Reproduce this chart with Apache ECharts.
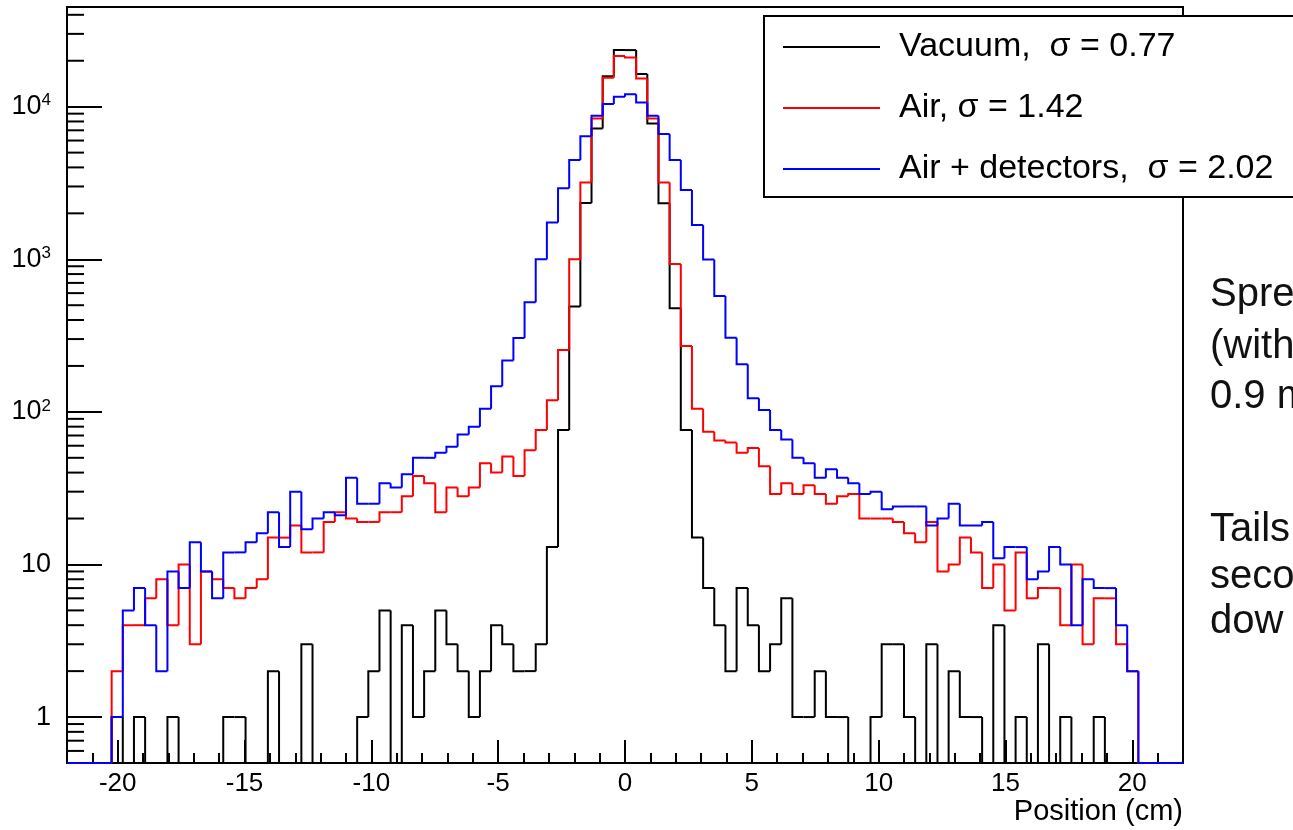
<!DOCTYPE html>
<html>
<head>
<meta charset="utf-8">
<script src="https://cdn.jsdelivr.net/npm/echarts@6/dist/echarts.min.js"></script>
<style>
html, body { margin: 0; padding: 0; background: #fff; }
#main { width: 1293px; height: 830px; }
</style>
</head>
<body>
<div id="main"></div>
<script>
var myChart = echarts.init(document.getElementById('main'));

// 100 bins between -22 and 22 cm
var binLow = -22, binHigh = 22, nBins = 100;
var binWidth = (binHigh - binLow) / nBins;

// counts per bin
var vacuum = [
    0, 0, 0, 0, 1, 0, 1, 0, 0, 1,
    0, 0, 0, 0, 1, 1, 0, 0, 2, 0,
    0, 3, 0, 0, 0, 0, 1, 2, 5, 0,
    4, 1, 2, 5, 3, 2, 1, 2, 4, 3,
    2, 2, 3, 13, 76, 490, 2340, 7200, 15850, 23480,
    23480, 16360, 7770, 2330, 477, 76, 15, 7, 4, 2,
    7, 4, 2, 3, 6, 1, 1, 2, 1, 1,
    0, 0, 1, 3, 3, 1, 0, 3, 0, 2,
    1, 1, 0, 4, 0, 1, 0, 3, 0, 1,
    0, 0, 1, 0, 0, 0, 0, 0, 0, 0
];
var air = [
    0, 0, 0, 0, 2, 4, 4, 6, 8, 4,
    10, 3, 9, 8, 7, 6, 7, 8, 15, 15,
    18, 12, 12, 19, 22, 20, 19, 19, 22, 22,
    28, 38, 34, 22, 32, 28, 32, 46, 40, 51,
    38, 56, 76, 119, 254, 1000, 3190, 8370, 15500, 21480,
    21040, 15300, 8370, 3190, 930, 270, 105, 74, 65, 63,
    54, 58, 44, 29, 34, 29, 33, 29, 25, 28,
    29, 20, 20, 20, 19, 16, 14, 19, 9, 10,
    15, 12, 7, 10, 5, 12, 6, 7, 7, 4,
    10, 3, 6, 6, 3, 2, 0, 0, 0, 0
];
var airDetectors = [
    0, 0, 0, 0, 1, 5, 7, 4, 2, 9,
    7, 14, 9, 6, 12, 12, 14, 16, 22, 13,
    30, 17, 20, 22, 21, 37, 25, 25, 34, 32,
    39, 50, 50, 54, 59, 71, 80, 105, 147, 217,
    305, 523, 1000, 1740, 2915, 4470, 6410, 8720, 10400, 11620,
    12040, 10660, 8720, 6610, 4470, 2840, 1680, 995, 574, 306,
    205, 123, 103, 76, 66, 50, 46, 37, 42, 37,
    34, 29, 30, 23, 24, 24, 24, 18, 20, 25,
    18, 18, 19, 11, 13, 13, 8, 9, 13, 10,
    4, 8, 7, 7, 4, 2, 0, 0, 0, 0
];

var names = ['Vacuum,  σ = 0.77', 'Air, σ = 1.42', 'Air + detectors,  σ = 2.02'];
var colors = ['#000000', '#ff0000', '#0000ff'];

var xLabelTicks = [-20, -15, -10, -5, 0, 5, 10, 15, 20];
var xMinorTicks = [-21, -20, -19, -18, -17, -16, -15, -14, -13, -12, -11, -10, -9, -8, -7, -6, -5, -4, -3, -2, -1,
    0, 1, 2, 3, 4, 5, 6, 7, 8, 9, 10, 11, 12, 13, 14, 15, 16, 17, 18, 19, 20, 21];
var yMinorTicks = [0.6, 0.7, 0.8, 0.9, 2, 3, 4, 5, 6, 7, 8, 9, 20, 30, 40, 50, 60, 70, 80, 90,
    200, 300, 400, 500, 600, 700, 800, 900, 2000, 3000, 4000, 5000, 6000, 7000, 8000, 9000,
    20000, 30000, 40000];
var yMin = 0.5, yMax = 45000;

var sideText = ['Spre', '(with', '0.9 m', 'Tails', 'seco', 'dow'];
var sideTextY = [295, 347, 397, 530, 577, 622];

var font = 'Liberation Sans, Arial, Helvetica, sans-serif';

function toBins(values) {
    return values.map(function (v, i) {
        return [binLow + binWidth * (i + 0.5), v];
    });
}

// ROOT style step outline, empty bins sit on the axis floor
function histRender(values) {
    return function (params, api) {
        var i = params.dataIndex;
        var x = api.value(0);
        var v = Math.max(api.value(1), yMin);
        var prev = i === 0 ? yMin : Math.max(values[i - 1], yMin);
        var pts = [
            api.coord([x - binWidth / 2, prev]),
            api.coord([x - binWidth / 2, v]),
            api.coord([x + binWidth / 2, v])
        ];
        if (i === values.length - 1) {
            pts.push(api.coord([x + binWidth / 2, yMin]));
        }
        return {
            type: 'polyline',
            shape: { points: pts },
            style: { stroke: api.visual('color'), lineWidth: 2, fill: null }
        };
    };
}

var histograms = [vacuum, air, airDetectors].map(function (values, k) {
    return {
        name: names[k],
        type: 'custom',
        coordinateSystem: 'cartesian2d',
        itemStyle: { color: colors[k] },
        data: toBins(values),
        renderItem: histRender(values),
        z: 3 + k
    };
});

var option = {
    backgroundColor: '#fff',
    animation: false,
    grid: {
        left: 67, top: 7, width: 1116, height: 756,
        show: true, borderColor: '#000', borderWidth: 2, backgroundColor: 'transparent'
    },
    legend: {
        orient: 'vertical',
        left: 764, top: 16,
        data: names,
        icon: 'rect',
        itemWidth: 97, itemHeight: 2,
        itemGap: 21,
        padding: [11, 40, 8, 19],
        borderColor: '#000', borderWidth: 2,
        backgroundColor: '#fff',
        selectedMode: false,
        textStyle: { fontSize: 34, lineHeight: 40, color: '#000', fontFamily: font, padding: [0, 0, 0, 14] },
        z: 10
    },
    xAxis: [{
        type: 'value', min: binLow, max: binHigh,
        axisLine: { onZero: false, lineStyle: { color: '#000', width: 2 } },
        axisTick: { inside: true, length: 23, customValues: xLabelTicks, lineStyle: { color: '#000', width: 2 } },
        axisLabel: { customValues: xLabelTicks, fontSize: 26, color: '#000', margin: 8, fontFamily: font },
        splitLine: { show: false },
        name: 'Position (cm)', nameLocation: 'end', nameGap: 0,
        nameTextStyle: { fontSize: 29, color: '#000', fontFamily: font, align: 'right', verticalAlign: 'top', padding: [34, 0, 0, 0] }
    }, {
        type: 'value', min: binLow, max: binHigh, position: 'bottom',
        axisLine: { show: false, onZero: false },
        axisTick: { inside: true, length: 10, customValues: xMinorTicks, lineStyle: { color: '#000', width: 2 } },
        axisLabel: { show: false },
        splitLine: { show: false }
    }],
    yAxis: {
        type: 'log', logBase: 10, min: yMin, max: yMax,
        axisLine: { show: true, onZero: false, lineStyle: { color: '#000', width: 2 } },
        axisTick: { show: true, inside: true, length: 35, lineStyle: { color: '#000', width: 2 } },
        axisLabel: {
            margin: 16,
            formatter: function (v) {
                var e = Math.log10(v);
                var r = Math.round(e);
                if (Math.abs(e - r) > 1e-6) return '';
                if (r === 0) return '{b|1}';
                if (r === 1) return '{b|10}';
                return '{b|10}{s|' + r + '}';
            },
            rich: {
                b: { fontSize: 27, color: '#000', fontFamily: font },
                s: { fontSize: 17, color: '#000', fontFamily: font, verticalAlign: 'top', padding: [0, 0, 12, 0] }
            }
        },
        splitLine: { show: false }
    },
    graphic: sideText.map(function (t, i) {
        return {
            type: 'text', x: 1210, y: sideTextY[i],
            style: { text: t, fontSize: 40, fill: '#111', fontFamily: font, verticalAlign: 'middle' }
        };
    }),
    series: histograms.concat([{
        name: 'yMinorTicks',
        type: 'custom',
        silent: true,
        data: yMinorTicks.map(function (v) { return [binLow, v]; }),
        renderItem: function (params, api) {
            var p = api.coord([api.value(0), api.value(1)]);
            return {
                type: 'line',
                shape: { x1: p[0], y1: p[1], x2: p[0] + 17, y2: p[1] },
                style: { stroke: '#000', lineWidth: 2 }
            };
        },
        z: 2
    }])
};

myChart.setOption(option);
</script>
</body>
</html>
